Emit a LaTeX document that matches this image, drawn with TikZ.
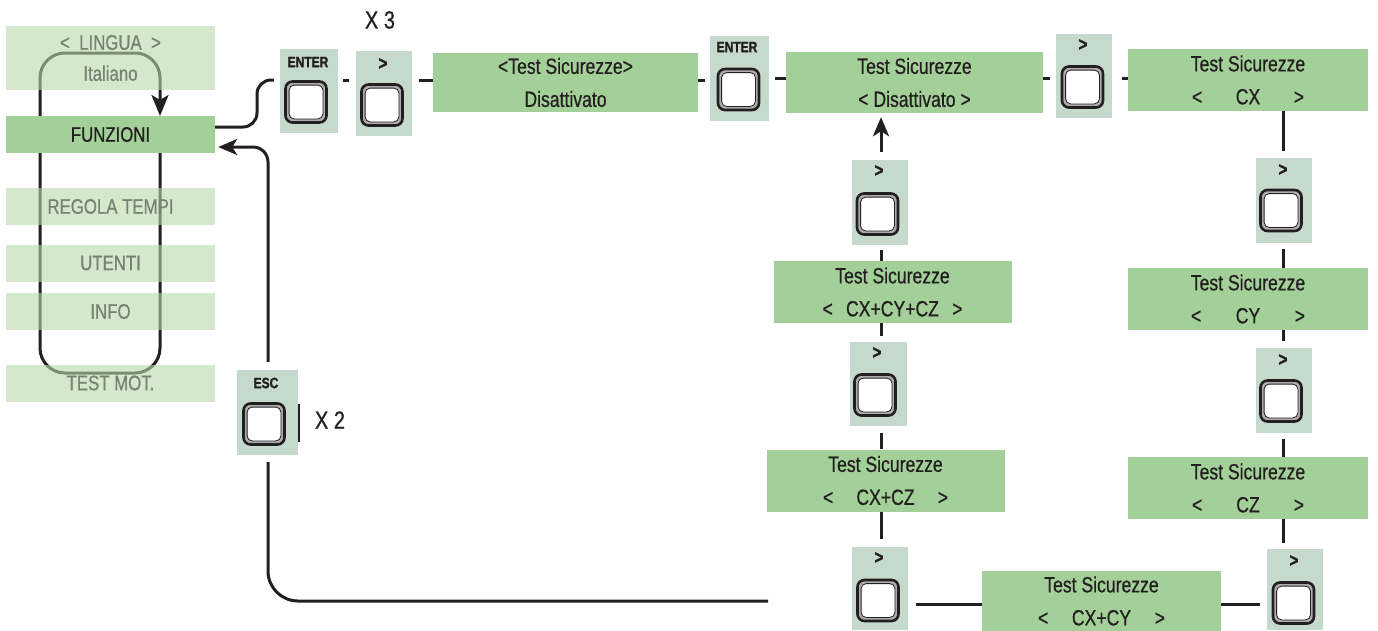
\documentclass[tikz,border=0pt]{standalone}
\usepackage{fontspec}
\usetikzlibrary{arrows.meta}
\newfontfamily\cond{Liberation Sans}[FakeStretch=0.8, FakeBold=0.6]
\newfontfamily\condb{Liberation Sans Bold}[FakeStretch=0.8, FakeBold=1.2]
\definecolor{lcdg}{RGB}{163,207,152}
\definecolor{keyg}{RGB}{197,217,204}
\definecolor{menug}{RGB}{183,217,172}
\definecolor{menut}{RGB}{118,130,114}
\definecolor{ink}{RGB}{35,31,32}
\tikzset{
 lcd/.style={fill=lcdg, inner sep=0pt, align=center, text=ink, font=\cond\fontsize{22}{33}\selectfont},
 menu/.style={fill=menug, fill opacity=0.6, text opacity=1, text=menut, minimum width=209pt, minimum height=37pt, inner sep=0pt, align=center, font=\cond\fontsize{21}{31}\selectfont},
 keybg/.style={fill=keyg, inner sep=0pt, minimum width=56pt, minimum height=85pt},
 keylab/.style={inner sep=0pt, text=ink, font=\condb\fontsize{15}{15}\selectfont},
 gtlab/.style={inner sep=0pt, text=ink, font=\condb\fontsize{19}{19}\selectfont},
 btn/.style={draw=ink, line width=2.6pt, fill=black!32, rounded corners=7pt, minimum size=41pt, inner sep=0pt,
   path picture={\draw[ink, line width=0.8pt, fill=white, rounded corners=5pt]
     ([shift={(3.6pt,-3.6pt)}]path picture bounding box.north west) rectangle
     ([shift={(-3.6pt,3.6pt)}]path picture bounding box.south east);}},
 conn/.style={draw=ink, line width=3pt},
 tip/.style={-{Stealth[length=19pt,width=16pt,inset=5pt]}},
 big/.style={inner sep=0pt, text=ink, font=\cond\fontsize{25}{25}\selectfont},
}
\newcommand{\brk}[2]{\makebox[#1pt]{<\hfill #2\hfill >}}
\begin{document}
\begin{tikzpicture}[x=1pt,y=-1pt]
\useasboundingbox[fill=white] (0,0) rectangle (1378,630);

% loop behind the menu
\draw[conn, rounded corners=25pt, -{Stealth[length=21pt,width=17pt,inset=5pt]}]
  (160,153) -- (160,373) -- (40,373) -- (40,53) -- (160,53) -- (160,116);

% menu
\node[menu, minimum height=64pt] (lingua) at (110.5,58) {<\ \ LINGUA\ \ >\\Italiano};
\node[menu, fill=lcdg, fill opacity=1, text=ink] (funz) at (110.5,134.5) {FUNZIONI};
\node[menu] (regola) at (110.5,206.5) {REGOLA TEMPI};
\node[menu] (utenti) at (110.5,263) {UTENTI};
\node[menu] (info) at (110.5,311.5) {INFO};
\node[menu] (testmot) at (110.5,383) {TEST MOT.};

% top row
\node[keybg, minimum width=58pt, minimum height=84pt] (enter1bg) at (309,91) {};
\node[keylab] (enter1lab) at (308,62) {ENTER};
\node[btn] (enter1) at (306,102) {};
\node[keybg] (gt1bg) at (384,93.5) {};
\node[gtlab] (gt1lab) at (383,64) {>};
\node[btn] (gt1) at (382,105) {};
\node[big] (x3) at (380,20) {X 3};
\node[lcd, minimum width=265pt, minimum height=59pt] (box1) at (565.5,82.5) {<Test Sicurezze>\\Disattivato};
\node[keybg, minimum width=59pt] (enter2bg) at (739.5,78.5) {};
\node[keylab] (enter2lab) at (737,47) {ENTER};
\node[btn] (enter2) at (738.5,89.5) {};
\node[lcd, minimum width=257pt, minimum height=61pt] (box2) at (914.5,82.5) {Test Sicurezze\\< Disattivato >};
\node[keybg, minimum height=84pt] (gt2bg) at (1084,76) {};
\node[gtlab] (gt2lab) at (1083,45) {>};
\node[btn] (gt2) at (1082.5,87) {};
\node[lcd, minimum width=240pt, minimum height=62pt] (cx) at (1248,80) {Test Sicurezze\\\brk{112}{CX}};

% right column
\node[keybg] (gt3bg) at (1284,200.5) {};
\node[gtlab] (gt3lab) at (1283,170) {>};
\node[btn] (gt3) at (1281,210.5) {};
\node[lcd, minimum width=240pt, minimum height=62pt] (cy) at (1248,299) {Test Sicurezze\\\brk{114}{CY}};
\node[keybg] (gt4bg) at (1284,390.5) {};
\node[gtlab] (gt4lab) at (1283,360) {>};
\node[btn] (gt4) at (1281,401) {};
\node[lcd, minimum width=240pt, minimum height=62pt] (cz) at (1248,488) {Test Sicurezze\\\brk{112}{CZ}};
\node[keybg, minimum height=81pt] (gt5bg) at (1295,589.5) {};
\node[gtlab] (gt5lab) at (1294,561) {>};
\node[btn] (gt5) at (1293.5,603) {};

% bottom and middle column
\node[lcd, minimum width=239pt, minimum height=60pt] (cxcy) at (1101.5,601) {Test Sicurezze\\\brk{127}{CX+CY}};
\node[keybg, minimum height=83pt] (gt6bg) at (880,588.5) {};
\node[gtlab] (gt6lab) at (879,558) {>};
\node[btn] (gt6) at (878,600.5) {};
\node[lcd, minimum width=238pt, minimum height=62pt] (cxcz) at (885.5,480.5) {Test Sicurezze\\\brk{125}{CX+CZ}};
\node[keybg, minimum width=57pt, minimum height=84pt] (gt7bg) at (878,383.5) {};
\node[gtlab] (gt7lab) at (877,353) {>};
\node[btn] (gt7) at (875,395) {};
\node[lcd, minimum width=238pt, minimum height=62pt] (cxcycz) at (892.5,292) {Test Sicurezze\\\brk{140}{CX+CY+CZ}};
\node[keybg] (gt8bg) at (880,202.5) {};
\node[gtlab] (gt8lab) at (879,171) {>};
\node[btn] (gt8) at (877.5,214) {};

% ESC
\node[keybg, minimum width=61pt] (escbg) at (267.5,412.5) {};
\node[keylab] (esclab) at (266,383) {ESC};
\node[btn] (esc) at (264,424) {};
\node[big] (x2) at (330,420) {X 2};
\coordinate (bara) at (299,404);
\coordinate (barb) at (299,442);
\draw[ink, line width=2.4pt] (bara) -- (barb);

% connectors top row
\draw[conn, rounded corners=14pt, shorten >=6pt] (funz.east |- 0,127) -- (257,127) -- (257,80) -- (enter1bg.west |- 0,80);
\draw[conn, shorten <=5pt, shorten >=7pt] (enter1bg.east |- 0,80) -- (gt1bg.west |- 0,80);
\draw[conn, shorten <=7pt] (gt1bg.east |- 0,80) -- (box1.west |- 0,80);
\draw[conn, shorten >=5pt] (box1.east |- 0,80) -- (enter2bg.west |- 0,80);
\draw[conn, shorten <=6pt] (enter2bg.east |- 0,78) -- (box2.west |- 0,78);
\draw[conn, shorten >=6pt] (box2.east |- 0,78) -- (gt2bg.west |- 0,78);
\draw[conn, shorten <=10pt] (gt2bg.east |- 0,78) -- (cx.west |- 0,78);

% right column
\draw[conn, shorten >=7pt] (cx.south -| 1283,0) -- (gt3bg.north -| 1283,0);
\draw[conn, shorten <=6pt] (gt3bg.south -| 1283,0) -- (cy.north -| 1283,0);
\draw[conn, shorten >=7pt] (cy.south -| 1283,0) -- (gt4bg.north -| 1283,0);
\draw[conn, shorten <=6pt] (gt4bg.south -| 1283,0) -- (cz.north -| 1283,0);
\draw[conn, shorten >=6pt] (cz.south -| 1283,0) -- (gt5bg.north -| 1283,0);

% bottom row
\draw[conn, shorten >=7pt] (cxcy.east |- 0,604) -- (gt5bg.west |- 0,604);
\draw[conn, shorten <=8pt] (gt6bg.east |- 0,604) -- (cxcy.west |- 0,604);

% middle column
\draw[conn, shorten >=8pt] (cxcz.south -| 881,0) -- (gt6bg.north -| 881,0);
\draw[conn, shorten <=7pt] (gt7bg.south -| 881,0) -- (cxcz.north -| 881,0);
\draw[conn, shorten >=5pt] (cxcycz.south -| 881,0) -- (gt7bg.north -| 881,0);
\draw[conn, shorten <=5pt] (gt8bg.south -| 881,0) -- (cxcycz.north -| 881,0);
\draw[conn, tip, shorten <=8pt, shorten >=4pt] (gt8bg.north -| 881,0) -- (box2.south -| 881,0);

% ESC connectors
\draw[conn, tip, rounded corners=15pt, shorten <=8pt, shorten >=3pt] (escbg.north -| 268,0) -- (268,147) -- (funz.east |- 0,147);
\coordinate (escend) at (768,601);
\draw[conn, rounded corners=30pt, shorten <=7pt] (escbg.south -| 268,0) -- (268,601) -- (escend);
\end{tikzpicture}
\end{document}
